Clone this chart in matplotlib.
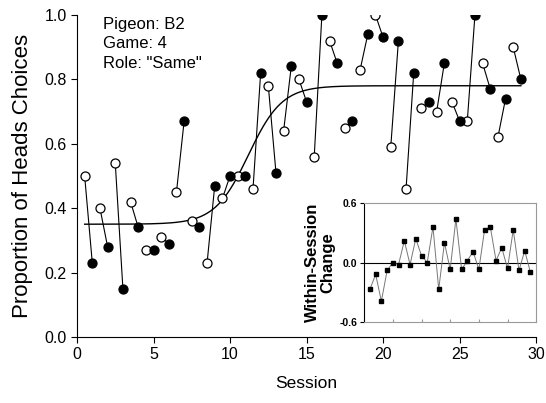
import matplotlib

matplotlib.use("Agg")
import matplotlib.pyplot as plt
import numpy as np

# proportion of heads choices, first and second half of each session
sessions = list(range(1, 30))
first_half = [0.50, 0.40, 0.54, 0.42, 0.27, 0.31, 0.45, 0.36, 0.23, 0.43,
              0.50, 0.46, 0.78, 0.64, 0.80, 0.56, 0.92, 0.65, 0.83, 1.00,
              0.59, 0.46, 0.71, 0.70, 0.73, 0.67, 0.85, 0.62, 0.90]
second_half = [0.23, 0.28, 0.15, 0.34, 0.27, 0.29, 0.67, 0.34, 0.47, 0.50,
               0.50, 0.82, 0.51, 0.84, 0.73, 1.00, 0.85, 0.67, 0.94, 0.93,
               0.92, 0.82, 0.73, 0.85, 0.67, 1.00, 0.77, 0.74, 0.80]

# fitted logistic curve
fit_floor = 0.35
fit_rise = 0.43
fit_mid = 11.2
fit_scale = 1.1
fit_range = (0.5, 29.0)

plt.rcParams["font.family"] = ["Liberation Sans", "DejaVu Sans"]


def logistic(x):
    return fit_floor + fit_rise / (1.0 + np.exp(-(x - fit_mid) / fit_scale))


def main():
    fig = plt.figure(figsize=(5.46, 4.03), dpi=100)
    ax = fig.add_axes([0.141, 0.164, 0.841, 0.799])

    x_first = np.array(sessions) - 0.5
    x_second = np.array(sessions, dtype=float)

    for xa, xb, ya, yb in zip(x_first, x_second, first_half, second_half):
        ax.plot([xa, xb], [ya, yb], color="black", lw=0.8, zorder=2)

    xs = np.linspace(fit_range[0], fit_range[1], 300)
    ax.plot(xs, logistic(xs), color="black", lw=1.0, zorder=1)

    ax.plot(x_first, first_half, "o", ms=6.5, mfc="white", mec="black", mew=0.9, zorder=3)
    ax.plot(x_second, second_half, "o", ms=6.5, mfc="black", mec="black", mew=0.9, zorder=3)

    ax.set_xlim(0, 30)
    ax.set_ylim(0, 1.0)
    ax.set_xticks(range(0, 31, 5))
    ax.set_yticks(np.arange(0, 1.01, 0.2))
    ax.set_yticklabels([f"{v:.1f}" for v in np.arange(0, 1.01, 0.2)])
    ax.spines["top"].set_visible(False)
    ax.spines["right"].set_visible(False)
    ax.tick_params(direction="out", length=4, labelsize=11.5, width=0.8)
    ax.set_xlabel("Session", fontsize=12.5, labelpad=10)
    ax.set_ylabel("Proportion of Heads Choices", fontsize=16, labelpad=8)

    ax.text(0.057, 0.995, "Pigeon: B2\nGame: 4\nRole: \"Same\"", transform=ax.transAxes,
            fontsize=12, va="top", ha="left", linespacing=1.4)

    # inset: within-session change
    change = np.array(second_half) - np.array(first_half)
    inset = fig.add_axes([0.667, 0.201, 0.315, 0.295])
    inset.axhline(0, color="black", lw=0.8)
    inset.plot(sessions, change, color="#777777", lw=0.7, marker="s", ms=2.2,
               mfc="black", mec="black")
    inset.set_xlim(0, 30)
    inset.set_ylim(-0.6, 0.6)
    inset.set_xticks(range(0, 31, 5))
    inset.set_xticklabels([])
    inset.set_yticks([-0.6, 0.0, 0.6])
    inset.set_yticklabels(["-0.6", "0.0", "0.6"], fontsize=7.5, fontweight="bold")
    for side in ("top", "right", "bottom"):
        inset.spines[side].set_color("#999999")
        inset.spines[side].set_linewidth(0.8)
    inset.spines["left"].set_linewidth(0.8)
    inset.tick_params(axis="x", direction="in", length=2, colors="#999999")
    inset.tick_params(axis="y", direction="out", length=3, width=0.8, pad=2)
    inset.set_ylabel("Within-Session\nChange", fontsize=12, fontweight="bold",
                     labelpad=3, linespacing=1.0)

    fig.savefig("out.png", dpi=100)
    plt.close(fig)


if __name__ == "__main__":
    main()
